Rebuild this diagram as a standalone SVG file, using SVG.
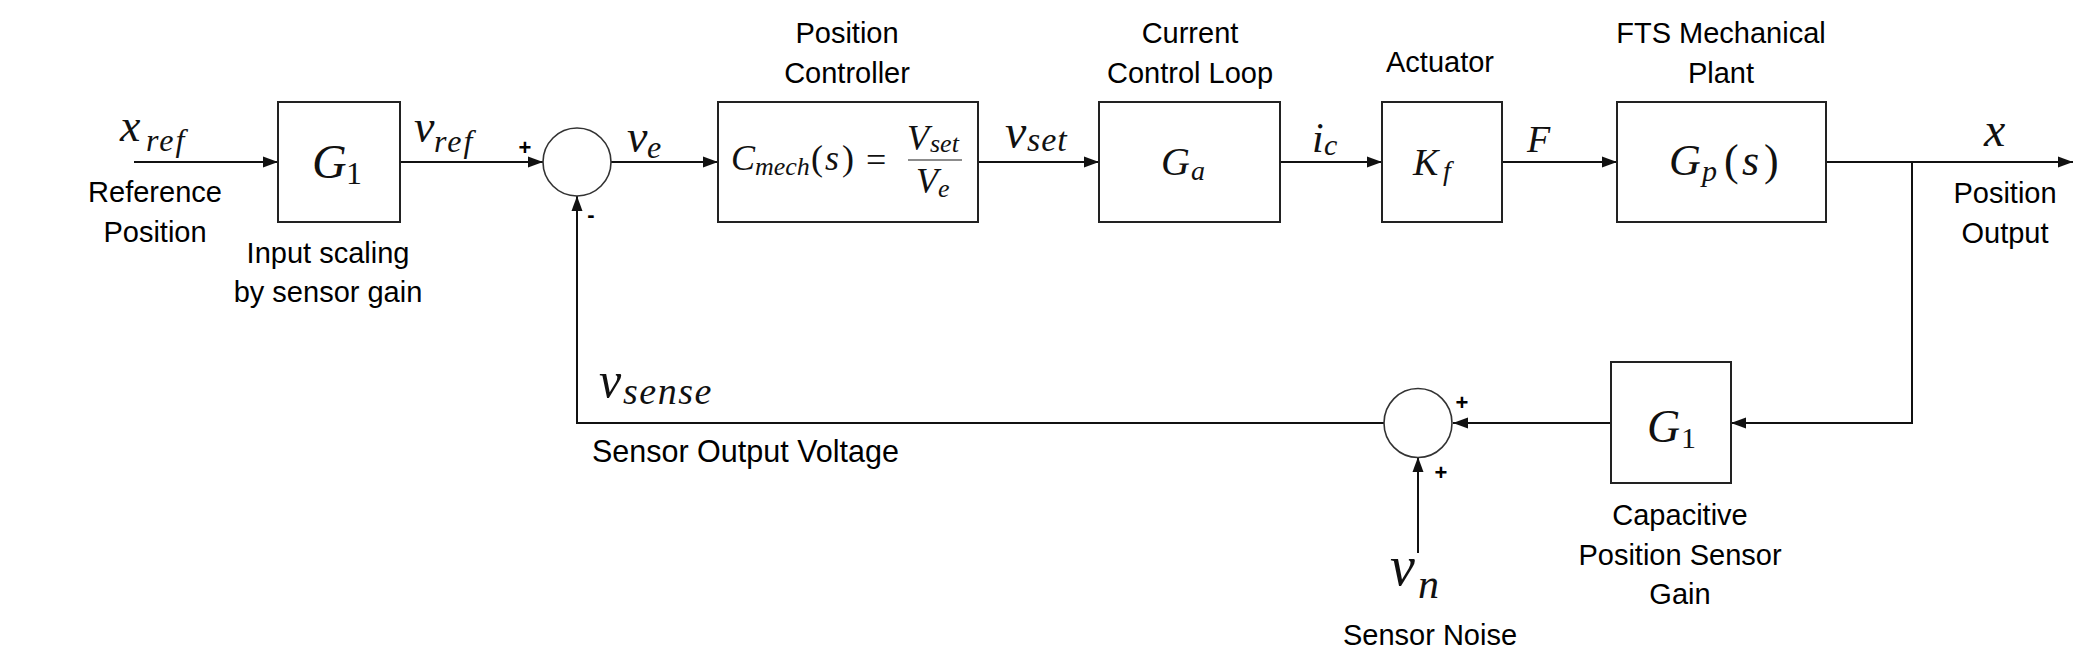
<svg xmlns="http://www.w3.org/2000/svg" width="2090" height="662" viewBox="0 0 2090 662">
<style>
.box{fill:#fff;stroke:#222;stroke-width:2}
.sum{fill:#fff;stroke:#333;stroke-width:1.6}
.wire{fill:none;stroke:#111;stroke-width:2}
.lbl{font-family:"Liberation Sans",Arial,sans-serif;font-size:29px;fill:#000;text-anchor:middle}
.lbs{font-family:"Liberation Sans",Arial,sans-serif;font-size:30.5px;fill:#000}
.m{font-family:"Liberation Serif","Times New Roman",serif;font-style:italic;fill:#111}
.r{font-style:normal}
.sg{font-family:"Liberation Sans",Arial,sans-serif;font-weight:bold;font-size:22px;fill:#000;text-anchor:middle}
</style>
<defs>
<marker id="arr" markerUnits="userSpaceOnUse" markerWidth="16" markerHeight="12" refX="15" refY="6" orient="auto">
<path d="M0,0.5 L15,6 L0,11.5 z" fill="#111"/>
</marker>
</defs>
<rect width="2090" height="662" fill="#fff"/>

<g id="connectors">
<path class="wire" d="M134 162 H278" marker-end="url(#arr)"/>
<path class="wire" d="M400 162 H543" marker-end="url(#arr)"/>
<path class="wire" d="M611 162 H718" marker-end="url(#arr)"/>
<path class="wire" d="M978 162 H1099" marker-end="url(#arr)"/>
<path class="wire" d="M1280 162 H1382" marker-end="url(#arr)"/>
<path class="wire" d="M1502 162 H1617" marker-end="url(#arr)"/>
<path class="wire" d="M1826 162 H2073" marker-end="url(#arr)"/>
<path class="wire" d="M1912 162 V423 H1731" marker-end="url(#arr)"/>
<path class="wire" d="M1611 423 H1453" marker-end="url(#arr)"/>
<path class="wire" d="M1384 423 H577 V196" marker-end="url(#arr)"/>
<path class="wire" d="M1418 553 V457" marker-end="url(#arr)"/>
</g>

<g id="input">
<text class="m" x="120" y="141" font-size="46">x</text>
<text class="m" x="146" y="151" font-size="32" letter-spacing="2">ref</text>
<text class="lbl" x="155" y="202">Reference</text>
<text class="lbl" x="155" y="242">Position</text>
</g>

<g id="g1-input">
<rect class="box" x="278" y="102" width="122" height="120"/>
<text class="m" x="312" y="178" font-size="48">G</text>
<text class="m r" x="346" y="184" font-size="32">1</text>
<text class="lbl" x="328" y="263">Input scaling</text>
<text class="lbl" x="328" y="302">by sensor gain</text>
<text class="m" x="414" y="142" font-size="46">v</text>
<text class="m" x="434" y="152" font-size="32" letter-spacing="2">ref</text>
</g>

<g id="sum1">
<ellipse class="sum" cx="577" cy="162" rx="34" ry="34"/>
<text class="sg" x="525" y="155">+</text>
<text class="sg" x="591" y="222">-</text>
<text class="m" x="627" y="152" font-size="46">v</text>
<text class="m" x="647" y="158" font-size="32">e</text>
</g>

<g id="position-controller">
<rect class="box" x="718" y="102" width="260" height="120"/>
<text class="lbl" x="847" y="43">Position</text>
<text class="lbl" x="847" y="83">Controller</text>
<text class="m" x="731" y="170" font-size="36">C</text>
<text class="m" x="755" y="175" font-size="26">mech</text>
<text class="m r" x="811" y="170" font-size="36">(</text>
<text class="m" x="825" y="170" font-size="36">s</text>
<text class="m r" x="842" y="170" font-size="36">)</text>
<text class="m r" x="866" y="172" font-size="36">=</text>
<text class="m" x="907" y="150" font-size="36">V</text>
<text class="m" x="930" y="152" font-size="26">set</text>
<line x1="908" y1="160" x2="962" y2="160" stroke="#666" stroke-width="1.6"/>
<text class="m" x="916" y="193" font-size="36">V</text>
<text class="m" x="938" y="197" font-size="26">e</text>
<text class="m" x="1005" y="148" font-size="48">v</text>
<text class="m" x="1027" y="151" font-size="34" letter-spacing="1">set</text>
</g>

<g id="current-loop">
<rect class="box" x="1099" y="102" width="181" height="120"/>
<text class="lbl" x="1190" y="43">Current</text>
<text class="lbl" x="1190" y="83">Control Loop</text>
<text class="m" x="1161" y="175" font-size="40">G</text>
<text class="m" x="1191" y="180" font-size="28">a</text>
<text class="m" x="1312" y="152" font-size="42">i</text>
<text class="m" x="1324" y="155" font-size="30">c</text>
</g>

<g id="actuator">
<rect class="box" x="1382" y="102" width="120" height="120"/>
<text class="lbl" x="1440" y="72">Actuator</text>
<text class="m" x="1413" y="175" font-size="38">K</text>
<text class="m" x="1443" y="180" font-size="28">f</text>
<text class="m" x="1527" y="152" font-size="38">F</text>
</g>

<g id="plant">
<rect class="box" x="1617" y="102" width="209" height="120"/>
<text class="lbl" x="1721" y="43">FTS Mechanical</text>
<text class="lbl" x="1721" y="83">Plant</text>
<text class="m" x="1669" y="175" font-size="44">G</text>
<text class="m" x="1702" y="181" font-size="30">p</text>
<text class="m r" x="1724" y="175" font-size="44">(</text>
<text class="m" x="1742" y="175" font-size="44">s</text>
<text class="m r" x="1764" y="175" font-size="44">)</text>
</g>

<g id="output">
<text class="m" x="1984" y="146" font-size="48">x</text>
<text class="lbl" x="2005" y="203">Position</text>
<text class="lbl" x="2005" y="243">Output</text>
</g>

<g id="sensor-gain">
<rect class="box" x="1611" y="362" width="120" height="121"/>
<text class="m" x="1647" y="442" font-size="46">G</text>
<text class="m r" x="1681" y="448" font-size="30">1</text>
<text class="lbl" x="1680" y="525">Capacitive</text>
<text class="lbl" x="1680" y="565">Position Sensor</text>
<text class="lbl" x="1680" y="604">Gain</text>
</g>

<g id="sum2">
<ellipse class="sum" cx="1418" cy="423" rx="34" ry="34.5"/>
<text class="sg" x="1462" y="410">+</text>
<text class="sg" x="1441" y="480">+</text>
</g>

<g id="noise">
<text class="m" x="1390" y="585" font-size="56">v</text>
<text class="m" x="1418" y="598" font-size="42">n</text>
<text class="lbl" x="1430" y="645">Sensor Noise</text>
</g>

<g id="sense">
<text class="m" x="599" y="397" font-size="50">v</text>
<text class="m" x="623" y="404" font-size="38" letter-spacing="1.5">sense</text>
<text class="lbs" x="592" y="462">Sensor Output Voltage</text>
</g>
</svg>
